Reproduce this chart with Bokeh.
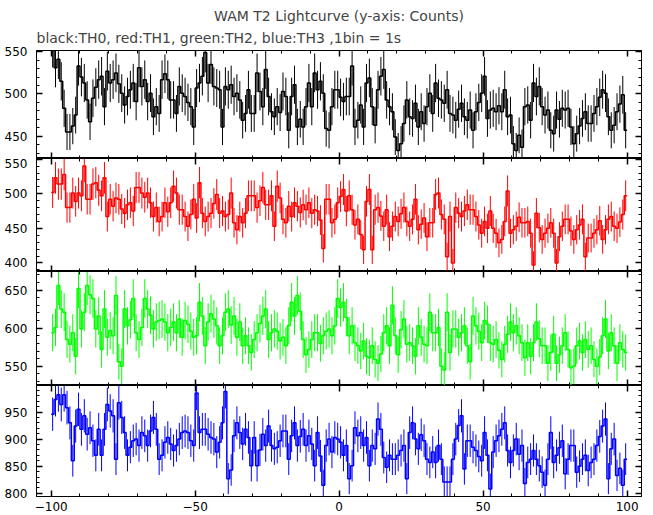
import numpy as np
from bokeh.plotting import figure
from bokeh.models import (Range1d, SingleIntervalTicker, LinearAxis, Title,
                          ColumnDataSource, CustomJSTickFormatter,
                          CustomLabelingPolicy)
from bokeh.layouts import column
from bokeh.embed import file_html
from bokeh.resources import INLINE

# ---------------- data (counts per 1 s bin, t = -100 .. 100 s) ----------------
time_start = -100.0
bin_size = 1.0

th0 = [555, 531, 541, 515, 483, 455, 455, 462, 475, 533, 520, 513, 493, 467, 495, 508, 517, 521, 485, 527,
       513, 517, 525, 512, 501, 487, 497, 505, 513, 491, 531, 509, 517, 491, 501, 473, 485, 477, 517, 524,
       517, 493, 493, 477, 509, 501, 497, 490, 485, 461, 507, 513, 521, 549, 513, 535, 509, 507, 505, 461,
       509, 505, 511, 497, 501, 493,
       469, 477, 505, 477, 477, 525, 503, 485, 529, 497, 479, 473, 485, 478, 503, 497, 457, 497, 511, 461,
       470, 461, 485, 513, 485, 525, 505, 515, 501, 459, 457, 485, 505, 505, 496, 491, 497, 497, 533, 461,
       469, 487, 461, 513, 519, 485, 463, 505, 521, 529, 493, 485, 479, 449, 433, 441, 465, 493, 473, 471,
       489, 461, 479, 465, 485, 501, 477, 513, 495,
       493, 489, 505, 477, 475, 469, 482, 489, 473, 469, 481, 457, 479, 490, 501, 521, 471, 481, 483, 479,
       486, 479, 505, 473, 475, 441, 433, 451, 437, 485, 487, 469, 513, 497, 509, 485, 475, 481, 457, 453,
       481, 470, 483, 481, 483, 461, 441, 453, 462, 471, 479, 465, 465, 477, 485, 496, 505, 501, 473, 457,
       463, 479, 488, 499, 457]

th1 = [502, 523, 514, 514, 528, 480, 480, 501, 489, 501, 497, 540, 492, 492, 514, 516, 505, 497, 523, 467,
       492, 482, 494, 492, 478, 472, 484, 487, 475, 509, 509, 501, 495, 501, 487, 467, 480, 460, 467, 487,
       474, 487, 511, 501, 477, 477, 467, 453, 470, 492, 465, 516, 472, 460, 467, 472, 486, 499, 472, 475,
       467, 470, 501, 458, 448, 467,
       458, 472, 497, 497, 497, 480, 490, 509, 484, 484, 497, 453, 511, 494, 463, 458, 482, 467, 487, 482,
       473, 484, 477, 487, 472, 477, 475, 462, 421, 492, 492, 458, 463, 487, 496, 506, 475, 497, 477, 455,
       463, 441, 419, 489, 506, 419, 477, 480, 468, 453, 477, 438, 453, 467, 460, 471, 480, 460, 453, 463,
       492, 448, 456, 465, 438, 458, 458, 499, 501,
       470, 463, 409, 467, 400, 480, 472, 467, 475, 484, 477, 477, 467, 455, 443, 460, 450, 475, 450, 443,
       429, 434, 460, 504, 443, 448, 453, 466, 458, 458, 460, 443, 397, 472, 451, 434, 443, 450, 458, 443,
       400, 438, 453, 463, 463, 446, 434, 448, 455, 463, 409, 436, 436, 443, 448, 461, 434, 448, 463, 467,
       453, 450, 459, 470, 497]

th2 = [594, 601, 656, 625, 621, 585, 579, 594, 563, 652, 599, 621, 656, 644, 639, 599, 616, 572, 625, 588,
       597, 590, 643, 556, 550, 625, 603, 611, 639, 594, 585, 601, 639, 625, 617, 599, 608, 610, 612, 608,
       594, 601, 608, 594, 612, 588, 610, 605, 596, 588, 590, 634, 616, 577, 608, 619, 612, 603, 577, 590,
       621, 625, 604, 616, 588, 608,
       577, 590, 577, 568, 585, 594, 606, 616, 625, 585, 594, 599, 596, 583, 588, 577, 603, 634, 616, 643,
       622, 585, 565, 572, 585, 594, 594, 580, 590, 596, 599, 590, 603, 639, 627, 634, 614, 590, 603, 581,
       577, 570, 583, 563, 561, 577, 559, 554, 566, 594, 603, 577, 630, 590, 565, 598, 612, 579, 581, 577,
       563, 603, 588, 579, 577, 621, 594, 594, 601,
       550, 545, 621, 568, 599, 599, 588, 594, 603, 577, 556, 616, 603, 596, 581, 610, 605, 581, 579, 585,
       571, 559, 579, 592, 608, 594, 603, 590, 581, 561, 581, 563, 581, 608, 586, 577, 577, 554, 568, 592,
       554, 565, 577, 594, 572, 548, 550, 577, 583, 568, 585, 572, 577, 559, 550, 562, 590, 612, 570, 594,
       577, 554, 581, 572, 568]

th3 = [946, 973, 982, 964, 982, 958, 930, 860, 924, 955, 918, 943, 909, 921, 897, 870, 918, 870, 918, 964,
       952, 943, 863, 967, 940, 912, 870, 885, 897, 900, 888, 912, 906, 888, 915, 940, 918, 863, 870, 894,
       903, 891, 879, 888, 900, 912, 915, 912, 897, 888, 985, 912, 918, 918, 909, 903, 900, 876, 894, 930,
       988, 827, 843, 906, 930, 912,
       891, 918, 903, 851, 903, 851, 880, 909, 888, 924, 888, 882, 885, 897, 915, 915, 863, 906, 930, 888,
       905, 918, 888, 906, 891, 851, 912, 869, 815, 888, 900, 876, 903, 900, 894, 870, 888, 827, 851, 921,
       906, 912, 888, 903, 851, 888, 882, 937, 918, 866, 848, 870, 863, 863, 870, 879, 888, 827, 912, 930,
       900, 882, 908, 897, 863, 857, 876, 857, 888,
       863, 821, 821, 821, 863, 900, 925, 943, 845, 897, 897, 885, 879, 868, 860, 912, 870, 808, 876, 897,
       906, 918, 930, 879, 857, 879, 900, 872, 888, 818, 857, 863, 879, 863, 851, 839, 815, 863, 912, 857,
       870, 884, 897, 836, 863, 888, 888, 839, 850, 863, 870, 842, 857, 863, 888, 905, 924, 937, 827, 882,
       900, 833, 846, 815, 863]

main_title = "WAM T2 Lightcurve (y-axis: Counts)"
sub_title = "black:TH0, red:TH1, green:TH2, blue:TH3 ,1bin = 1s"

# ---------------- styling ----------------
FONT = "DejaVu Sans"
FS = "12px"
X_RANGE = (-105.1, 105.0)

panels = [
    (th0, "#000000", (423.6, 551.5), 108),
    (th1, "#ff0000", (387.6, 551.0), 113),
    (th2, "#00ff00", (524.7, 674.4), 114),
    (th3, "#0000ff", (794.0, 999.0), 111),
]

minus_fmt = "return (tick < 0 ? '\\u2212' : '') + Math.abs(tick).toFixed(0);"


def style_axis(ax, show_labels, standoff=3):
    ax.ticker = SingleIntervalTicker(interval=50, num_minor_ticks=5)
    ax.major_tick_in = 6
    ax.major_tick_out = 0
    ax.minor_tick_in = 3
    ax.minor_tick_out = 0
    ax.major_tick_line_width = 1.5
    ax.minor_tick_line_width = 1
    ax.major_tick_line_color = "black"
    ax.minor_tick_line_color = "black"
    ax.axis_line_color = "black"
    ax.axis_line_width = 1
    if show_labels:
        ax.major_label_text_font = FONT
        ax.major_label_text_font_size = FS
        ax.major_label_text_color = "black"
        ax.major_label_standoff = standoff
        ax.formatter = CustomJSTickFormatter(code=minus_fmt)
    else:
        ax.major_label_text_font_size = "0px"
        ax.major_label_standoff = 0
        ax.major_label_policy = CustomLabelingPolicy(code="return new Set()")


figs = []
n_pan = len(panels)
for i, (vals, color, yr, fh) in enumerate(panels):
    first = i == 0
    last = i == n_pan - 1
    p = figure(frame_width=605, frame_height=fh,
               x_range=Range1d(*X_RANGE), y_range=Range1d(*yr),
               x_axis_location=None, y_axis_location=None,
               output_backend="svg", toolbar_location=None, title=None,
               min_border_left=36, min_border_right=4,
               min_border_top=(50 if first else 0),
               min_border_bottom=0)
    p.grid.visible = False
    p.outline_line_color = "black"
    p.outline_line_width = 1
    p.background_fill_color = "white"
    p.border_fill_color = "white"

    left = LinearAxis()
    style_axis(left, True, standoff=9)
    p.add_layout(left, "left")
    right = LinearAxis()
    style_axis(right, False)
    p.add_layout(right, "right")
    bottom = LinearAxis()
    style_axis(bottom, last, standoff=5)
    p.add_layout(bottom, "below")
    top = LinearAxis()
    style_axis(top, False)
    p.add_layout(top, "above")

    v = np.asarray(vals, dtype=float)
    n = len(v)
    edges = time_start + bin_size * np.arange(n + 1)
    centers = time_start + bin_size * (np.arange(n) + 0.5)
    err = np.sqrt(v)

    p.step(x=edges, y=np.append(v, v[-1]), mode="after",
           line_color=color, line_width=1.5)
    src = ColumnDataSource(dict(x=centers, lo=v - err, hi=v + err))
    p.segment(x0="x", y0="lo", x1="x", y1="hi", source=src,
              line_color=color, line_width=1)

    if first:
        p.add_layout(Title(text=sub_title, align="left", text_font=FONT,
                           text_font_size="14px", text_font_style="normal",
                           standoff=9), "above")
        p.add_layout(Title(text=main_title, align="center", text_font=FONT,
                           text_font_size="14px", text_font_style="normal",
                           standoff=0), "above")
    figs.append(p)

layout = column(*figs, spacing=0)
open("out.html", "w").write(file_html(layout, INLINE))
